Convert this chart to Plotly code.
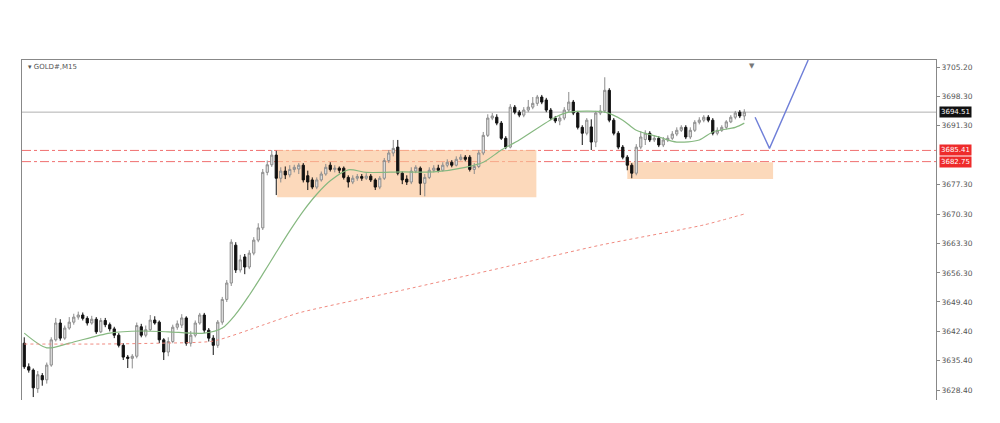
import plotly.graph_objects as go

# ---------------- data ----------------
opens = [3639.6,3634.0,3633.2,3628.8,3631.9,3630.9,3634.4,3640.4,3644.4,3640.8,
         3643.2,3644.6,3645.8,3646.3,3645.5,3644.4,3645.3,3642.3,3645.0,3644.0,
         3643.0,3641.5,3639.1,3636.3,3636.0,3636.5,3643.5,3641.5,3642.8,3645.1,
         3644.6,3640.4,3637.5,3640.0,3643.4,3643.9,3645.6,3639.6,3641.5,3644.4,
         3646.3,3642.7,3640.8,3639.1,3644.6,3650.0,3653.9,3662.9,3657.0,3660.1,
         3657.7,3661.0,3664.1,3667.0,3680.2,3682.0,3684.3,3678.8,3680.5,3679.6,
         3680.9,3681.0,3681.9,3679.4,3678.4,3676.7,3678.4,3679.8,3681.9,3680.9,
         3681.2,3681.2,3679.0,3677.9,3678.8,3679.2,3678.8,3679.3,3678.4,3676.7,
         3678.8,3683.0,3684.8,3686.2,3680.0,3678.6,3677.9,3680.5,3681.2,3677.6,
         3679.0,3680.7,3681.2,3680.7,3681.9,3682.6,3681.9,3683.3,3683.8,3683.8,
         3680.9,3681.6,3684.8,3689.0,3693.1,3693.3,3691.9,3688.3,3686.2,3695.7,
         3694.5,3693.8,3695.0,3695.7,3696.6,3698.1,3697.4,3695.0,3693.1,3692.4,
         3693.1,3695.0,3696.9,3694.3,3690.9,3689.5,3691.0,3687.4,3694.3,3694.8,
         3699.7,3692.6,3689.5,3686.2,3683.8,3681.9,3680.0,3686.2,3688.0,3689.5,
         3687.9,3688.3,3686.7,3687.9,3688.3,3689.3,3690.2,3690.9,3688.6,3690.2,
         3692.1,3692.6,3693.3,3692.6,3689.5,3690.2,3690.9,3692.2,3693.3,3694.5,
         3693.6]
highs = [3641.0,3634.8,3633.6,3633.0,3632.5,3635.0,3641.0,3645.6,3645.3,3643.8,
         3645.8,3646.6,3647.1,3646.9,3646.0,3646.1,3645.8,3645.6,3645.6,3644.5,
         3643.5,3642.0,3639.6,3636.8,3637.0,3644.5,3644.2,3643.8,3646.3,3646.0,
         3645.0,3640.8,3641.0,3644.0,3645.0,3646.5,3646.0,3642.5,3645.0,3646.8,
         3646.8,3643.2,3641.5,3645.1,3650.6,3654.6,3664.3,3663.6,3660.6,3660.8,
         3661.7,3664.8,3668.1,3681.0,3683.0,3685.5,3685.3,3681.4,3681.6,3681.9,
         3682.0,3682.4,3682.4,3680.6,3679.0,3679.0,3680.4,3682.2,3682.6,3681.9,
         3681.6,3681.6,3679.5,3679.5,3679.8,3679.8,3680.0,3679.8,3678.8,3679.3,
         3683.6,3685.5,3687.9,3687.9,3680.4,3679.5,3681.4,3681.9,3681.6,3679.8,
         3681.4,3681.9,3682.0,3682.6,3683.3,3683.1,3684.0,3684.5,3684.3,3684.3,
         3682.4,3685.5,3689.8,3694.0,3694.3,3694.0,3692.4,3688.8,3696.4,3696.2,
         3695.0,3695.7,3697.4,3698.1,3698.6,3698.6,3697.9,3695.5,3693.6,3693.6,
         3695.7,3699.3,3697.4,3694.8,3691.4,3693.1,3692.8,3694.8,3696.2,3702.8,
         3700.2,3693.1,3690.0,3686.7,3684.3,3682.4,3686.9,3690.0,3690.2,3690.0,
         3689.0,3688.8,3688.6,3689.0,3690.0,3690.9,3691.4,3691.4,3690.9,3692.6,
         3693.3,3693.8,3693.8,3693.1,3690.9,3691.4,3692.6,3693.8,3694.8,3695.0,
         3695.2]
lows = [3633.5,3632.6,3626.8,3627.8,3629.5,3630.0,3634.0,3640.0,3640.2,3640.4,
        3642.8,3644.0,3645.2,3645.0,3643.8,3644.0,3641.8,3642.0,3643.4,3642.4,
        3640.8,3638.6,3635.6,3633.7,3633.6,3636.0,3641.0,3641.0,3642.5,3644.0,
        3639.6,3635.6,3636.5,3639.6,3642.8,3643.2,3639.0,3638.8,3641.0,3644.0,
        3642.0,3640.0,3636.8,3638.5,3644.0,3649.4,3653.2,3656.3,3656.4,3656.0,
        3657.2,3660.5,3663.6,3666.5,3679.5,3681.5,3674.8,3677.8,3678.6,3679.0,
        3680.2,3679.8,3677.8,3676.0,3676.2,3676.2,3678.0,3679.4,3680.4,3680.2,
        3680.0,3678.5,3676.6,3677.4,3678.2,3678.2,3678.4,3677.9,3676.0,3676.2,
        3678.4,3682.4,3684.0,3679.5,3677.4,3677.2,3677.4,3680.0,3674.8,3674.5,
        3678.6,3680.2,3680.2,3680.4,3681.4,3681.4,3681.6,3683.0,3682.8,3680.4,
        3679.8,3681.2,3684.3,3688.6,3692.6,3691.4,3687.9,3685.7,3685.9,3694.0,
        3693.3,3693.3,3694.5,3695.2,3696.0,3696.4,3694.5,3692.6,3691.9,3691.4,
        3692.6,3694.5,3693.8,3690.4,3686.7,3689.0,3685.5,3686.2,3693.8,3694.3,
        3692.1,3689.0,3685.7,3683.3,3680.7,3678.8,3679.5,3685.7,3686.7,3687.4,
        3687.4,3686.2,3686.2,3687.4,3687.9,3688.8,3689.8,3688.1,3688.1,3689.8,
        3691.6,3692.1,3692.1,3689.0,3689.0,3689.8,3690.4,3691.9,3692.8,3693.1,
        3692.6]
closes = [3634.0,3633.2,3629.0,3632.1,3630.9,3634.4,3640.4,3644.4,3640.8,3643.2,
          3644.6,3645.8,3646.3,3645.5,3644.4,3645.3,3642.3,3645.0,3644.0,3643.0,
          3641.5,3639.1,3636.3,3636.0,3636.5,3643.8,3641.5,3642.8,3645.1,3644.4,
          3640.4,3637.5,3640.0,3643.4,3644.2,3645.6,3639.6,3641.5,3644.4,3646.3,
          3642.7,3640.8,3639.1,3644.6,3650.0,3653.9,3663.6,3657.0,3659.4,3657.7,
          3661.0,3664.1,3667.0,3680.2,3682.0,3684.3,3678.8,3680.5,3679.6,3680.9,
          3681.4,3681.9,3678.4,3677.9,3676.7,3678.4,3679.8,3681.4,3680.9,3681.2,
          3680.7,3679.0,3677.9,3678.8,3679.2,3678.8,3679.3,3678.4,3676.7,3678.8,
          3683.0,3684.8,3685.9,3680.0,3678.4,3677.9,3680.5,3681.4,3677.6,3679.0,
          3680.7,3681.2,3680.7,3681.9,3682.6,3681.9,3683.3,3683.8,3683.3,3680.9,
          3681.6,3684.8,3689.0,3693.1,3693.6,3691.9,3688.3,3686.2,3695.7,3694.5,
          3693.8,3695.0,3695.7,3696.6,3698.1,3696.9,3695.0,3693.1,3692.4,3693.1,
          3695.0,3696.9,3694.3,3690.9,3689.5,3692.6,3687.4,3694.3,3694.8,3699.7,
          3692.6,3689.5,3686.2,3683.8,3681.9,3680.0,3686.2,3688.6,3689.5,3687.9,
          3688.3,3686.7,3687.9,3688.3,3689.3,3690.2,3690.9,3688.6,3690.2,3692.1,
          3692.6,3693.3,3692.6,3689.5,3690.2,3690.9,3692.2,3693.3,3694.3,3693.6,
          3694.51]

# fast moving average (green) read at selected bars
ma_fast_idx = [0,5,10,19,26,32,40,44,47,50,53,56,59,62,65,68,72,76,84,91,98,102,
               106,110,118,121,129,133,136,141,145,150,153,158,160]
ma_fast_val = [3642.0,3638.5,3639.6,3642.0,3642.5,3642.3,3642.0,3643.2,3646.5,
               3651.0,3656.0,3661.2,3666.3,3671.0,3675.0,3678.2,3680.8,3680.2,
               3680.3,3680.3,3681.4,3682.6,3685.5,3687.9,3693.3,3694.5,3694.5,
               3692.6,3690.2,3688.6,3687.4,3687.9,3689.8,3690.9,3691.9]

# slow moving average (red dotted) read at selected bars
ma_slow_idx = [0,17,30,42,53,61,84,106,128,151,160]
ma_slow_val = [3639.4,3639.4,3639.6,3640.1,3643.9,3646.8,3652.2,3657.5,3662.9,
               3667.7,3670.3]

# horizontal levels
current_price = 3694.51
level_prices = [3685.41, 3682.75]
level_labels = ["3685.41", "3682.75"]

# supply/demand zones: (start bar, end bar, low price, high price)
zone_x0 = [56.2, 134.0]
zone_x1 = [113.8, 166.4]
zone_lo = [3674.3, 3678.6]
zone_hi = [3685.5, 3682.6]

# projected path (blue)
proj_idx = [162.4, 165.6, 174.2]
proj_val = [3693.3, 3685.9, 3706.9]

# price-scale ticks
tick_vals = [3705.20, 3698.30, 3691.30, 3677.30, 3670.30, 3663.30, 3656.30,
             3649.40, 3642.40, 3635.40, 3628.40]
tick_text = ["%.2f" % v for v in tick_vals]

bars = list(range(len(closes)))
Y_RANGE = [3626.1, 3706.9]
X_RANGE = [-0.5, 202.6]

fig = go.Figure()

fig.add_trace(go.Candlestick(
    x=bars, open=opens, high=highs, low=lows, close=closes,
    increasing=dict(line=dict(color="#8c8c8c", width=1), fillcolor="#e6e6e6"),
    decreasing=dict(line=dict(color="#111111", width=1), fillcolor="#111111"),
    whiskerwidth=0, showlegend=False, hoverinfo="skip"))

fig.add_trace(go.Scatter(x=ma_fast_idx, y=ma_fast_val, mode="lines",
                         line=dict(color="#86b880", width=1.2, shape="spline", smoothing=0.8),
                         showlegend=False, hoverinfo="skip"))
fig.add_trace(go.Scatter(x=ma_slow_idx, y=ma_slow_val, mode="lines",
                         line=dict(color="#f08a80", width=1, dash="dot", shape="spline", smoothing=0.6),
                         showlegend=False, hoverinfo="skip"))
fig.add_trace(go.Scatter(x=proj_idx, y=proj_val, mode="lines",
                         line=dict(color="#6f7fd8", width=1.4),
                         showlegend=False, hoverinfo="skip", cliponaxis=True))

shapes = []
for x0, x1, lo, hi in zip(zone_x0, zone_x1, zone_lo, zone_hi):
    shapes.append(dict(type="rect", xref="x", yref="y", x0=x0, x1=x1, y0=lo, y1=hi,
                       fillcolor="rgba(251,196,150,0.65)", line=dict(width=0), layer="below"))
shapes.append(dict(type="line", xref="paper", yref="y", x0=0, x1=1,
                   y0=current_price, y1=current_price,
                   line=dict(color="#b0b0b0", width=1), layer="below"))
for p in level_prices:
    shapes.append(dict(type="line", xref="paper", yref="y", x0=0, x1=1, y0=p, y1=p,
                       line=dict(color="#f07070", width=1, dash="dashdot"), layer="below"))

annotations = []
annotations.append(dict(xref="paper", yref="y", x=1.003, y=current_price, xanchor="left",
                        yanchor="middle", text="%.2f" % current_price, showarrow=False,
                        font=dict(family="DejaVu Sans", size=7, color="white"),
                        bgcolor="#111111", borderpad=1))
for p, t in zip(level_prices, level_labels):
    annotations.append(dict(xref="paper", yref="y", x=1.003, y=p, xanchor="left",
                            yanchor="middle", text=t, showarrow=False,
                            font=dict(family="DejaVu Sans", size=7, color="white"),
                            bgcolor="#ee2b2b", borderpad=1))
annotations.append(dict(xref="paper", yref="paper", x=0.004, y=0.997, xanchor="left",
                        yanchor="top", text="▾ GOLD#,M15", showarrow=False,
                        font=dict(family="DejaVu Sans", size=7, color="#555555")))
annotations.append(dict(xref="x", yref="paper", x=161.8, y=1.0, xanchor="center",
                        yanchor="top", text="▼", showarrow=False,
                        font=dict(family="DejaVu Sans", size=7, color="#777777")))

fig.update_layout(
    width=1000, height=423,
    margin=dict(l=22, r=64, t=60, b=23),
    paper_bgcolor="white", plot_bgcolor="white",
    shapes=shapes, annotations=annotations,
    xaxis=dict(range=X_RANGE, showgrid=False, zeroline=False, showticklabels=False,
               ticks="", showline=True, linecolor="#888888", linewidth=1, side="top",
               rangeslider=dict(visible=False), fixedrange=True),
    yaxis=dict(range=Y_RANGE, side="right", showgrid=False, zeroline=False,
               tickvals=tick_vals, ticktext=tick_text, ticks="outside", ticklen=3,
               tickcolor="#888888", showline=True, mirror=True, linecolor="#888888",
               linewidth=1, tickfont=dict(family="DejaVu Sans", size=7.5, color="#555555"),
               fixedrange=True),
)

fig.write_html("out.html", config={"displayModeBar": False},
               post_script="document.body.style.margin='0px';document.body.style.overflow='hidden';")
